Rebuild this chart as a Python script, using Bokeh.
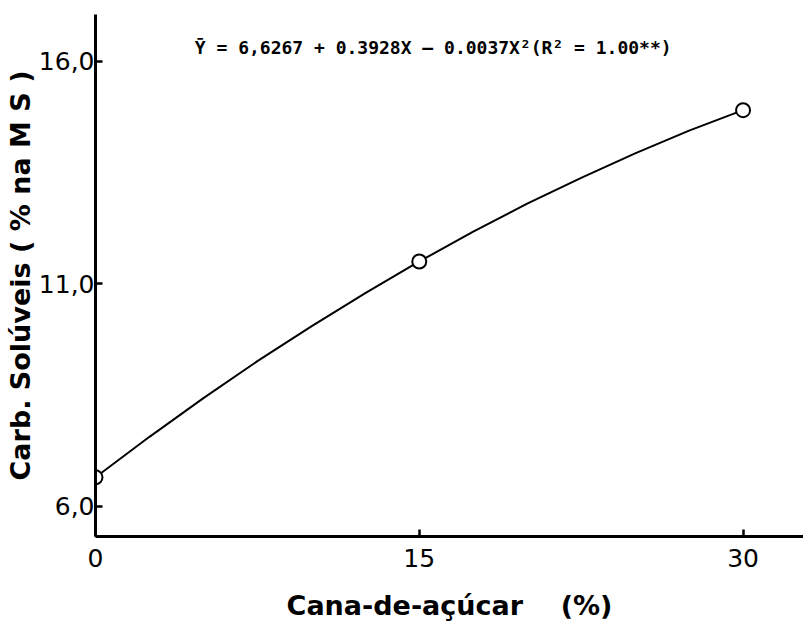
from bokeh.plotting import figure
from bokeh.models import Range1d, FixedTicker, Label
from bokeh.embed import file_html
from bokeh.resources import INLINE

# Observed means
cana_pct = [0, 15, 30]
carb_sol = [6.65, 11.5, 14.9]

# Fitted curve
curve_x = [0, 2.5, 5, 7.5, 10, 12.5, 15, 17.5, 20, 22.5, 25, 27.5, 30]
curve_y = [6.65, 7.56, 8.43, 9.26, 10.04, 10.79, 11.5, 12.17, 12.80, 13.38, 13.93, 14.44, 14.9]

x_ticks = [0, 15, 30]
y_ticks = [6, 11, 16]
y_tick_labels = ["6,0", "11,0", "16,0"]

equation = "Ȳ = 6,6267 + 0.3928X – 0.0037X²(R² = 1.00**)"
NB = "\u00a0"
x_title = "Cana-de-açúcar" + NB * 4 + "(%)"
y_title = "Carb." + NB + "Solúveis" + NB + "(" + NB + "%" + NB + "na" + NB + "M" + NB + "S" + NB + ")"

FONT = "DejaVu Sans"

p = figure(width=803, height=637, output_backend="svg", toolbar_location=None,
           x_range=Range1d(0, 32.8), y_range=Range1d(5.32, 17.05),
           min_border_left=95, min_border_right=0, min_border_top=14, min_border_bottom=101)

p.outline_line_color = None
p.xgrid.grid_line_color = None
p.ygrid.grid_line_color = None
p.background_fill_color = "white"
p.border_fill_color = "white"

p.line(curve_x, curve_y, line_color="black", line_width=2)
p.scatter(cana_pct, carb_sol, size=14, marker="circle", fill_color="white",
          line_color="black", line_width=2)

for ax in (p.xaxis[0], p.yaxis[0]):
    ax.axis_line_width = 3
    ax.axis_line_color = "black"
    ax.major_tick_in = 7
    ax.major_tick_out = 0
    ax.minor_tick_line_color = None
    ax.major_tick_line_width = 2.5
    ax.major_label_text_font = FONT
    ax.major_label_text_font_size = "25px"
    ax.major_label_text_color = "black"
    ax.axis_label_text_font = FONT
    ax.axis_label_text_font_style = "bold"
    ax.axis_label_text_font_size = "27px"
    ax.axis_label_text_color = "black"

p.xaxis[0].ticker = FixedTicker(ticks=x_ticks)
p.yaxis[0].ticker = FixedTicker(ticks=y_ticks)
p.yaxis[0].major_label_overrides = {t: l for t, l in zip(y_ticks, y_tick_labels)}
p.xaxis[0].axis_label = x_title
p.yaxis[0].axis_label = y_title
p.xaxis[0].major_label_standoff = 12
p.xaxis[0].axis_label_standoff = 20
p.yaxis[0].major_label_standoff = 1
p.yaxis[0].axis_label_standoff = 0

p.add_layout(Label(x=4.6, y=16.3, text=equation, text_font="DejaVu Sans Mono",
                   text_font_size="18px", text_font_style="bold", text_color="black",
                   text_baseline="middle"))

open("out.html", "w").write(file_html(p, INLINE))
